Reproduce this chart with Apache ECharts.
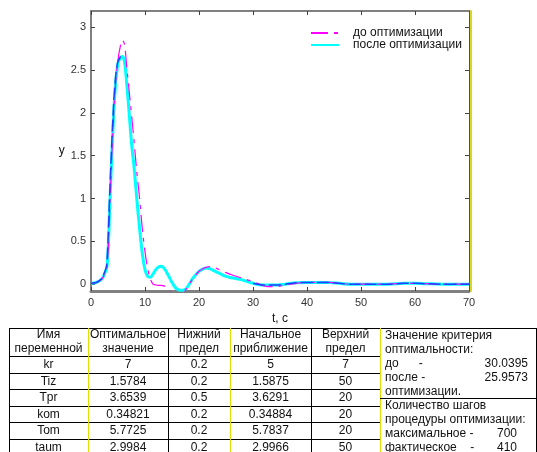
<!DOCTYPE html>
<html>
<head>
<meta charset="utf-8">
<script src="https://cdn.jsdelivr.net/npm/echarts@6/dist/echarts.min.js"></script>
<style>
  body { margin: 0; background: #fff; }
  #chart { position: absolute; left: 0; top: 0; width: 537px; height: 452px; }
  #tbl { position: absolute; left: 0; top: 0; width: 537px; height: 452px; overflow: hidden;
         font-family: "Liberation Sans", Arial, sans-serif; font-size: 12px; color: #111; }
  .cell { position: absolute; box-sizing: border-box; text-align: center; white-space: nowrap; }
  .ln { position: absolute; }
  .txt { position: absolute; white-space: pre; line-height: 14px; }
</style>
</head>
<body>
<div id="chart"></div>
<div id="tbl"></div>
<script>
// time, s
const timeS = [0, 1, 2, 2.5, 3, 3.5, 4, 4.5, 5, 5.5, 5.8, 6.2, 6.6, 7, 7.5, 8, 8.5, 9, 9.5, 10,
  10.5, 11, 11.5, 12, 12.5, 13, 13.5, 14, 14.5, 15, 15.5, 16, 16.5, 17, 17.5, 18, 18.5, 19, 20,
  21, 21.5, 22, 23, 24, 25, 26, 28, 30, 32, 34, 36, 38, 40, 42, 44, 46, 48, 50, 55, 58, 60, 62, 65, 70];
// response before optimisation
const yBefore = [0.01, 0.02, 0.06, 0.12, 0.22, 0.95, 1.72, 2.3, 2.62, 2.8, 2.85, 2.8, 2.55, 2.3, 1.98, 1.65,
  1.3, 1.0, 0.65, 0.38, 0.18, 0.06, 0.0, -0.01, -0.015, -0.015, -0.02, -0.04, -0.08, -0.12, -0.15, -0.17,
  -0.17, -0.13, -0.07, -0.02, 0.03, 0.07, 0.15, 0.19, 0.2, 0.205, 0.19, 0.16, 0.135, 0.11, 0.07, 0.03,
  -0.02, -0.03, -0.01, 0.01, 0.02, 0.02, 0.02, 0.01, 0.0, 0.0, 0.0, 0.01, 0.01, 0.005, 0.0, 0.0];
// response after optimisation
const yAfter = [0.01, 0.02, 0.06, 0.12, 0.22, 0.95, 1.72, 2.3, 2.58, 2.65, 2.66, 2.6, 2.35, 2.05, 1.65, 1.35,
  0.98, 0.65, 0.36, 0.17, 0.09, 0.08, 0.12, 0.17, 0.2, 0.21, 0.19, 0.14, 0.08, 0.02, -0.03, -0.06,
  -0.07, -0.07, -0.06, -0.02, 0.03, 0.08, 0.15, 0.185, 0.19, 0.18, 0.15, 0.12, 0.09, 0.075, 0.05, 0.01,
  -0.01, -0.01, 0.0, 0.015, 0.02, 0.02, 0.02, 0.01, 0.0, 0.0, 0.0, 0.01, 0.01, 0.005, 0.0, 0.0];
// thin blue trace (visible on the rise and in the tail)
const blueT = [0, 1, 1.9, 2.4, 2.9, 3.4, 3.9, 4.4, 4.9, 5.4, 5.7, null, 30, 32, 34, 36, 38, 40, 42, 44, 46, 48, 50, 55, 58, 60, 62, 65, 70];
const blueY = [0.01, 0.02, 0.06, 0.12, 0.22, 0.95, 1.72, 2.3, 2.58, 2.65, 2.66, null, 0.01, -0.01, -0.01, 0.0, 0.015, 0.02, 0.02, 0.02, 0.01, 0.0, 0.0, 0.0, 0.01, 0.01, 0.005, 0.0, 0.0];

const yTicks = [0, 0.5, 1, 1.5, 2, 2.5, 3];
const seriesNames = ['до оптимизации', 'после оптимизации'];

// table
const headers = [['Имя', 'переменной'], ['Оптимальное', 'значение'], ['Нижний', 'предел'],
  ['Начальное', 'приближение'], ['Верхний', 'предел']];
const varNames = ['kr', 'Tiz', 'Tpr', 'kom', 'Tom', 'taum'];
const optValues = [7, 1.5784, 3.6539, 0.34821, 5.7725, 2.9984];
const lowLimits = [0.2, 0.2, 0.5, 0.2, 0.2, 0.2];
const initValues = [5, 1.5875, 3.6291, 0.34884, 5.7837, 2.9966];
const upLimits = [7, 50, 20, 20, 20, 50];
const critBefore = '30.0395';
const critAfter = '25.9573';
const stepsMax = '700';
const stepsActual = '410';

const zip = (xs, ys) => xs.map((x, i) => (x === null ? null : [x, ys[i]]));

const chart = echarts.init(document.getElementById('chart'), null, { renderer: 'canvas' });

const hidden = { show: false };
const gray = '#808080';
const tickStyle = { color: '#404040', width: 1 };

chart.setOption({
  animation: false,
  textStyle: { fontFamily: 'Liberation Sans, Arial, sans-serif' },
  grid: { left: 91, right: 68, top: 11, bottom: 161 },
  legend: {
    data: seriesNames,
    orient: 'vertical',
    left: 305,
    top: 22,
    itemWidth: 28,
    itemHeight: 10,
    itemGap: 0,
    itemStyle: { opacity: 0 },
    textStyle: { fontSize: 12, color: '#111', padding: [0, 0, 0, 9] }
  },
  xAxis: [
    {
      type: 'value', min: 0, max: 70, interval: 10, position: 'bottom',
      name: 't, c', nameLocation: 'middle', nameGap: 20,
      nameTextStyle: { fontSize: 12, color: '#111' },
      axisLine: { onZero: false, lineStyle: { color: gray, width: 3 } },
      axisTick: { inside: true, length: 4, lineStyle: tickStyle },
      axisLabel: { fontSize: 11, color: '#333', margin: 6 },
      splitLine: hidden
    },
    {
      type: 'value', min: 0, max: 70, interval: 10, position: 'top',
      axisLine: { show: true, onZero: false, lineStyle: { color: gray, width: 2 } },
      axisTick: { inside: true, length: 4, lineStyle: tickStyle },
      axisLabel: hidden, splitLine: hidden
    }
  ],
  yAxis: [
    {
      type: 'value', min: -0.08, max: 3.19, position: 'left',
      name: 'y', nameLocation: 'middle', nameRotate: 0, nameGap: 26,
      nameTextStyle: { fontSize: 12, color: '#111' },
      axisLine: { show: true, onZero: false, lineStyle: { color: gray, width: 2 } },
      axisTick: { show: true, inside: true, length: 4, lineStyle: tickStyle, customValues: yTicks },
      axisLabel: { fontSize: 11, color: '#333', margin: 5, customValues: yTicks },
      splitLine: hidden
    },
    {
      type: 'value', min: -0.08, max: 3.19, position: 'right', z: 3,
      axisLine: { show: true, onZero: false, lineStyle: { color: '#505050', width: 1 } },
      axisTick: { show: true, inside: true, length: 4, lineStyle: tickStyle, customValues: yTicks },
      axisLabel: hidden, splitLine: hidden
    },
    {
      type: 'value', min: -0.08, max: 3.19, position: 'right', offset: 2, z: 1,
      axisLine: { show: true, onZero: false, lineStyle: { color: '#d8d820', width: 2 } },
      axisTick: hidden, axisLabel: hidden, splitLine: hidden
    }
  ],
  series: [
    {
      name: seriesNames[1], type: 'line', data: zip(timeS, yAfter), smooth: 0.35,
      symbol: 'none', showSymbol: false, itemStyle: { color: '#00ffff' },
      lineStyle: { color: '#00ffff', width: 3 }, z: 2
    },
    {
      name: seriesNames[0], type: 'line', data: zip(timeS, yBefore), smooth: 0.35,
      symbol: 'none', showSymbol: false, itemStyle: { color: '#ff00ff' },
      lineStyle: { color: '#ff00ff', width: 1.2, type: [17, 6, 4, 6] }, z: 3
    },
    {
      name: 'blue', type: 'line', data: zip(blueT, blueY), smooth: 0.35, connectNulls: false,
      symbol: 'none', showSymbol: false,
      lineStyle: { color: '#2040ff', width: 1.5, type: [12, 4] }, z: 4
    }
  ]
});

// ---- table below the chart ----
const tbl = document.getElementById('tbl');
const colX = [9, 88, 168, 230, 311, 380];
const colV = ['#000', '#e0e000', '#000', '#e0e000', '#000', '#e0e000'];
const top0 = 328, headH = 28, rowH = 16.6, boxR = 536;
const nRows = varNames.length;
const bottom = top0 + headH + rowH * nRows;

function add(cls, css, text) {
  const d = document.createElement('div');
  d.className = cls;
  Object.assign(d.style, css);
  if (text !== undefined) d.textContent = text;
  tbl.appendChild(d);
  return d;
}

// horizontal lines
add('ln', { left: colX[0] + 'px', top: top0 + 'px', width: (boxR - colX[0]) + 'px', height: '1px', background: '#000' });
for (let i = 0; i <= nRows; i++) {
  const y = top0 + headH + rowH * i;
  add('ln', { left: colX[0] + 'px', top: y + 'px', width: (colX[5] - colX[0]) + 'px', height: '1px', background: '#000' });
}
// vertical lines
colX.forEach((x, i) => {
  add('ln', { left: x + 'px', top: top0 + 'px', width: '1px', height: (bottom - top0) + 'px', background: colV[i] });
});
add('ln', { left: boxR + 'px', top: top0 + 'px', width: '1px', height: (bottom - top0) + 'px', background: '#000' });
add('ln', { left: colX[5] + 'px', top: '398px', width: (boxR - colX[5]) + 'px', height: '1px', background: '#000' });

// header
headers.forEach((h, c) => {
  add('cell', { left: colX[c] + 'px', top: (top0 - 1) + 'px', width: (colX[c + 1] - colX[c]) + 'px',
    lineHeight: '14px' }, h[0] + '\n' + h[1]).style.whiteSpace = 'pre';
});
// rows
const cols = [varNames, optValues, lowLimits, initValues, upLimits];
for (let r = 0; r < nRows; r++) {
  cols.forEach((arr, c) => {
    add('cell', { left: colX[c] + 'px', top: (top0 + headH + rowH * r) + 'px',
      width: (colX[c + 1] - colX[c]) + 'px', height: rowH + 'px', lineHeight: rowH + 'px' }, String(arr[r]));
  });
}

// criterion / step info
const infoX = 385;
add('txt', { left: infoX + 'px', top: '328px' }, 'Значение критерия\nоптимальности:\nдо      -\nпосле -\nоптимизации.');
add('txt', { left: '430px', top: '356px', width: '98px', textAlign: 'right' }, critBefore + '\n' + critAfter);
add('txt', { left: infoX + 'px', top: '398px' }, 'Количество шагов\nпроцедуры оптимизации:\nмаксимальное -\nфактическое    -');
add('txt', { left: '497px', top: '426px' }, stepsMax + '\n' + stepsActual);
</script>
</body>
</html>
